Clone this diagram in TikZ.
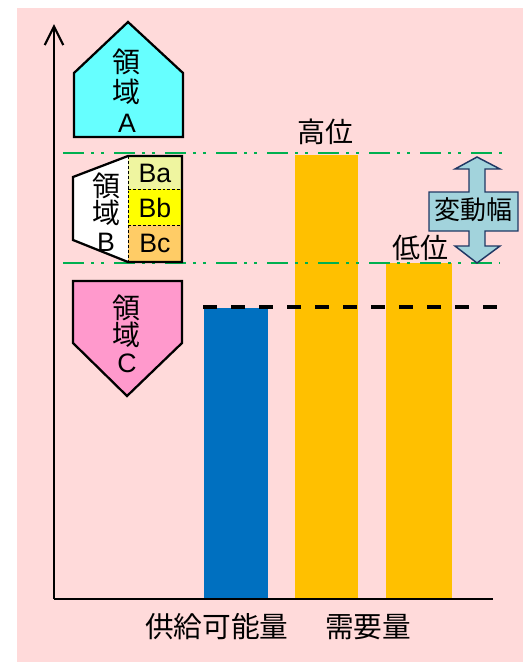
\documentclass[tikz,border=0pt]{standalone}
\usepackage{fontspec}
\setmainfont{Liberation Sans}
\newfontfamily\jp{Noto Sans CJK JP}
\usetikzlibrary{arrows.meta}
\definecolor{bgpink}{HTML}{FFDADA}
\definecolor{barblue}{HTML}{0070C0}
\definecolor{barorange}{HTML}{FFC000}
\definecolor{linegreen}{HTML}{00B050}
\definecolor{cyanA}{HTML}{66FFFF}
\definecolor{pinkC}{HTML}{FF99CC}
\definecolor{cellBa}{HTML}{EFF5A0}
\definecolor{cellBb}{HTML}{FFFF00}
\definecolor{cellBc}{HTML}{FFCC66}
\definecolor{arrowfill}{HTML}{A2D3DC}
\definecolor{arrowline}{HTML}{203864}
\newcommand\jch[1]{{\jp\fontsize{21}{21}\selectfont #1}}
\tikzset{
  region/.style={draw=black, line width=1.7pt, line join=miter},
  lbl/.style={inner sep=0pt, font=\fontsize{20}{24}\selectfont},
  stack/.style={inner sep=0pt, align=center, font=\fontsize{20}{21}\selectfont},
  greenline/.style={draw=linegreen, line width=1.5pt,
    dash pattern=on 15.75pt off 5.25pt on 2.25pt off 5.25pt on 2.25pt off 7.5pt},
  cellsep/.style={draw=black, line width=0.6pt, dash pattern=on 2.2pt off 1.5pt}
}
\begin{document}
\begin{tikzpicture}[x=0.75pt,y=-0.75pt]
\useasboundingbox (0,0) rectangle (523,662);
\fill[bgpink] (17,8) rectangle (523,662);

% bars
\fill[barblue] (204,308) rectangle (268,598);
\fill[barorange] (295,155) rectangle (358,598);
\fill[barorange] (386,263) rectangle (452,598);

% axes
\coordinate (origin) at (54,599);
\coordinate (ytop) at (54,24);
\coordinate (xend) at (493,599);
\draw[line width=1.6pt, -{Straight Barb[length=14pt,width=14pt,line width=1.6pt]}] (origin) -- (ytop);
\draw[line width=1.6pt] (origin) -- (xend);

% supply level dashed line
\coordinate (d1) at (203,307);
\coordinate (d2) at (498,307);
\draw[line width=2.6pt, dash pattern=on 10.5pt off 10.5pt] (d1) -- (d2);

% green range lines
\coordinate (g1) at (63,153);
\coordinate (g2) at (503,153);
\coordinate (g3) at (63,263);
\coordinate (g4) at (500,263);
\draw[greenline] (g1) -- (g2);
\draw[greenline] (g3) -- (g4);

% region A
\draw[region, fill=cyanA] (128,22) -- (183,73) -- (183,137) -- (74,137) -- (74,73) -- cycle;
\node[stack, font=\fontsize{20}{22.5}\selectfont] (A) at (127,91) {\jch{領}\\\jch{域}\\A};

% region B
\fill[white] (128,156) -- (73,177) -- (73,240) -- (128,262) -- cycle;
\fill[cellBa] (128,156) rectangle (182,189);
\fill[cellBb] (128,189) rectangle (182,225);
\fill[cellBc] (128,225) rectangle (182,262);
\draw[cellsep] (128,156) -- (128,262);
\draw[cellsep] (128,189) -- (182,189);
\draw[cellsep] (128,225) -- (182,225);
\draw[region] (128,156) -- (73,177) -- (73,240) -- (128,262) -- (182,262) -- (182,156) -- cycle;
\node[stack, font=\fontsize{20}{20.5}\selectfont] (B) at (106,212) {\jch{領}\\\jch{域}\\B};
\node[lbl] (Ba) at (155,173) {Ba};
\node[lbl] (Bb) at (155,208) {Bb};
\node[lbl] (Bc) at (155,243) {Bc};

% region C
\draw[region, fill=pinkC] (73,281) -- (182,281) -- (182,343) -- (127,396) -- (73,343) -- cycle;
\node[stack, font=\fontsize{20}{20.5}\selectfont] (C) at (127,334) {\jch{領}\\\jch{域}\\C};

% variation arrow
\draw[draw=arrowline, fill=arrowfill, line width=1.1pt, line join=miter]
  (477,157) -- (500,169) -- (485,169) -- (485,192) -- (518,192) -- (518,231)
  -- (485,231) -- (485,246) -- (500,246) -- (477,263) -- (455,246) -- (469,246)
  -- (469,231) -- (429,231) -- (429,192) -- (469,192) -- (469,169) -- (455,169) -- cycle;
\node[lbl, font=\jp\fontsize{19.5}{22}\selectfont] (range) at (473,210) {変動幅};

% labels
\node[lbl, font=\jp\fontsize{21}{24}\selectfont] (high) at (325,132) {高位};
\node[lbl, font=\jp\fontsize{21}{24}\selectfont] (low) at (420,248) {低位};
\node[lbl, font=\jp\fontsize{21.5}{24}\selectfont] (supply) at (217,627) {供給可能量};
\node[lbl, font=\jp\fontsize{21.5}{24}\selectfont] (demand) at (368,627) {需要量};
\end{tikzpicture}
\end{document}
